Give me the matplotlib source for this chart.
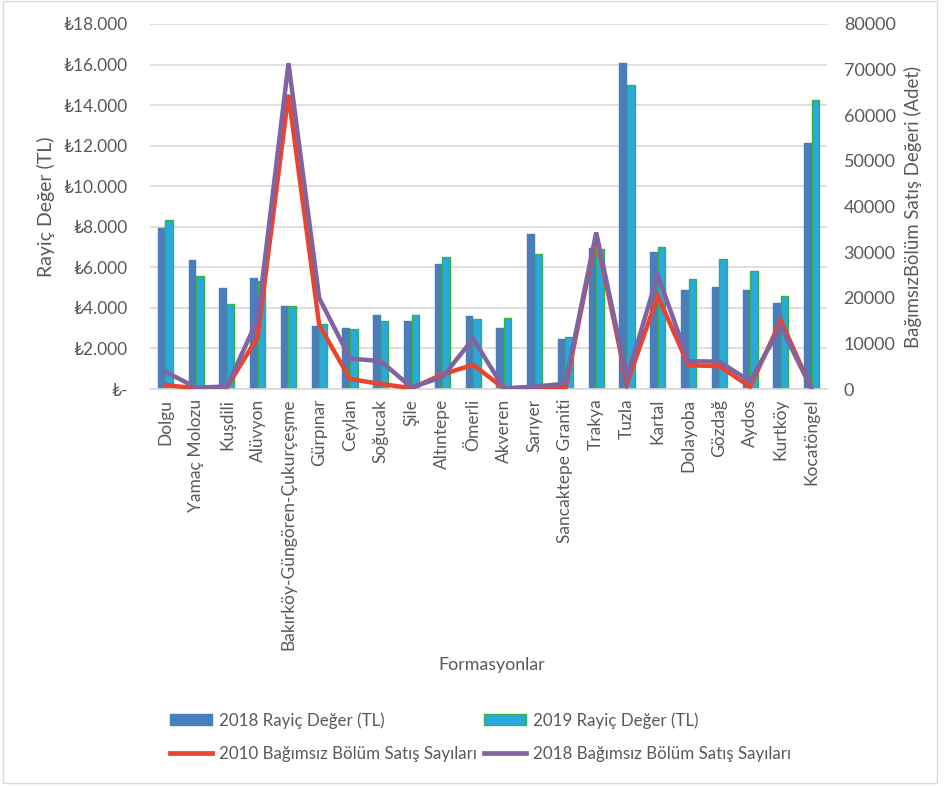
import matplotlib
matplotlib.use("Agg")
import matplotlib.pyplot as plt
import numpy as np
from matplotlib.patches import Rectangle, Patch
from matplotlib.lines import Line2D
from matplotlib.ticker import FuncFormatter

plt.rcParams['font.family'] = ['Lato', 'DejaVu Sans']

categories = ["Dolgu", "Yamaç Molozu", "Kuşdili", "Alüvyon",
              "Bakırköy-Güngören-Çukurçeşme", "Gürpınar", "Ceylan", "Soğucak",
              "Şile", "Altıntepe", "Ömerli", "Akveren", "Sarıyer",
              "Sancaktepe Graniti", "Trakya", "Tuzla", "Kartal", "Dolayoba",
              "Gözdağ", "Aydos", "Kurtköy", "Kocatöngel"]

rayic_2018 = [7950, 6360, 4980, 5470, 4110, 3120, 3020, 3650, 3350, 6160,
              3580, 3020, 7660, 2470, 6940, 16100, 6740, 4880, 5030, 4900,
              4260, 12150]
rayic_2019 = [8350, 5570, 4190, 5340, 4080, 3220, 2960, 3370, 3630, 6520,
              3470, 3480, 6670, 2580, 6900, 15000, 7020, 5420, 6410, 5800,
              4600, 14250]

satis_2010 = [870, 150, 400, 11400, 64500, 14000, 2200, 1100, 200, 3200,
              5300, 150, 300, 200, 33500, 1200, 20400, 5200, 5000, 500,
              15000, 0]
satis_2018 = [3800, 300, 550, 15300, 71400, 19900, 6700, 6100, 350, 2600,
              11000, 150, 500, 1200, 34300, 2500, 25000, 6100, 6000, 1700,
              13700, 0]

left_ticks = np.arange(0, 18001, 2000)
right_ticks = np.arange(0, 80001, 10000)

W, H = 945, 786
fig = plt.figure(figsize=(W / 100, H / 100), dpi=100)
ax = fig.add_axes([150 / W, 1 - 389 / H, (827 - 150) / W, (389 - 24) / H])
ax2 = ax.twinx()

text_color = "#595959"
grid_color = "#D9D9D9"
blue = "#4A7EBB"
cyan = "#29A9E0"
cyan_edge = "#2FB34A"
red = "#EA4330"
purple = "#8064A2"

x = np.arange(len(categories))
bw = 0.245
ax.bar(x - bw / 2, rayic_2018, width=bw, color=blue, edgecolor=blue,
       linewidth=0.3, zorder=2)
ax.bar(x + bw / 2, rayic_2019, width=bw, color=cyan, edgecolor=cyan_edge,
       linewidth=1.0, zorder=2)

ax.set_ylim(0, 18000)
ax.set_xlim(-0.5, len(categories) - 0.5)
ax.set_yticks(left_ticks)
ax.yaxis.set_major_formatter(FuncFormatter(
    lambda v, p: "₺-" if v == 0 else "₺" + f"{int(v):,}".replace(",", ".")))
ax.grid(axis="y", color=grid_color, linewidth=1.2, zorder=0)
ax.set_axisbelow(True)
ax.set_xticks(x)
ax.set_xticklabels(categories, rotation=90, fontsize=12.5, color=text_color)
ax.tick_params(axis="x", length=0, pad=7)
ax.tick_params(axis="y", length=0, labelsize=12.5, labelcolor=text_color,
               pad=16)
for s in ["top", "left", "right"]:
    ax.spines[s].set_visible(False)
    ax2.spines[s].set_visible(False)
ax.spines["bottom"].set_color(grid_color)
ax.spines["bottom"].set_linewidth(1.2)
ax2.spines["bottom"].set_visible(False)

ax2.plot(x, satis_2010, color=red, linewidth=3.2, solid_joinstyle="miter",
         zorder=3)
ax2.plot(x, satis_2018, color=purple, linewidth=3.2, solid_joinstyle="miter",
         zorder=4)
ax2.set_ylim(0, 80000)
ax2.set_yticks(right_ticks)
ax2.tick_params(axis="y", length=0, labelsize=13, labelcolor=text_color,
                pad=12)

fig.text(46 / W, 1 - 207 / H, "Rayiç Değer (TL)", fontsize=14,
         color=text_color, rotation=90, ha="center", va="center")
fig.text(913 / W, 1 - 207 / H, "BağımsızBölüm Satış Değeri (Adet)",
         fontsize=13.4, color=text_color, rotation=90, ha="center",
         va="center")
fig.text(492 / W, 1 - 665 / H, "Formasyonlar", fontsize=12.8,
         color=text_color, ha="center", va="center")

handles = [Patch(facecolor=blue, edgecolor=blue),
           Line2D([0], [0], color=red, linewidth=3.4),
           Patch(facecolor=cyan, edgecolor=cyan_edge, linewidth=1.0),
           Line2D([0], [0], color=purple, linewidth=3.4)]
labels = ["2018 Rayiç Değer (TL)", "2010 Bağımsız Bölüm Satış Sayıları",
          "2019 Rayiç Değer (TL)", "2018 Bağımsız Bölüm Satış Sayıları"]
leg = fig.legend(handles, labels, ncol=2, loc="upper left",
                 bbox_to_anchor=(170 / W, 1 - 712 / H), frameon=False,
                 fontsize=12.2, handlelength=2.5, handleheight=0.55,
                 handletextpad=0.4, columnspacing=0.4, labelspacing=1.0,
                 borderaxespad=0, borderpad=0)
for t in leg.get_texts():
    t.set_color(text_color)

fig.patches.append(Rectangle((3 / W, 3 / H), 934 / W, (H - 4) / H,
                             transform=fig.transFigure, fill=False,
                             edgecolor=grid_color, linewidth=1.0))

fig.savefig("out.png", dpi=100)
